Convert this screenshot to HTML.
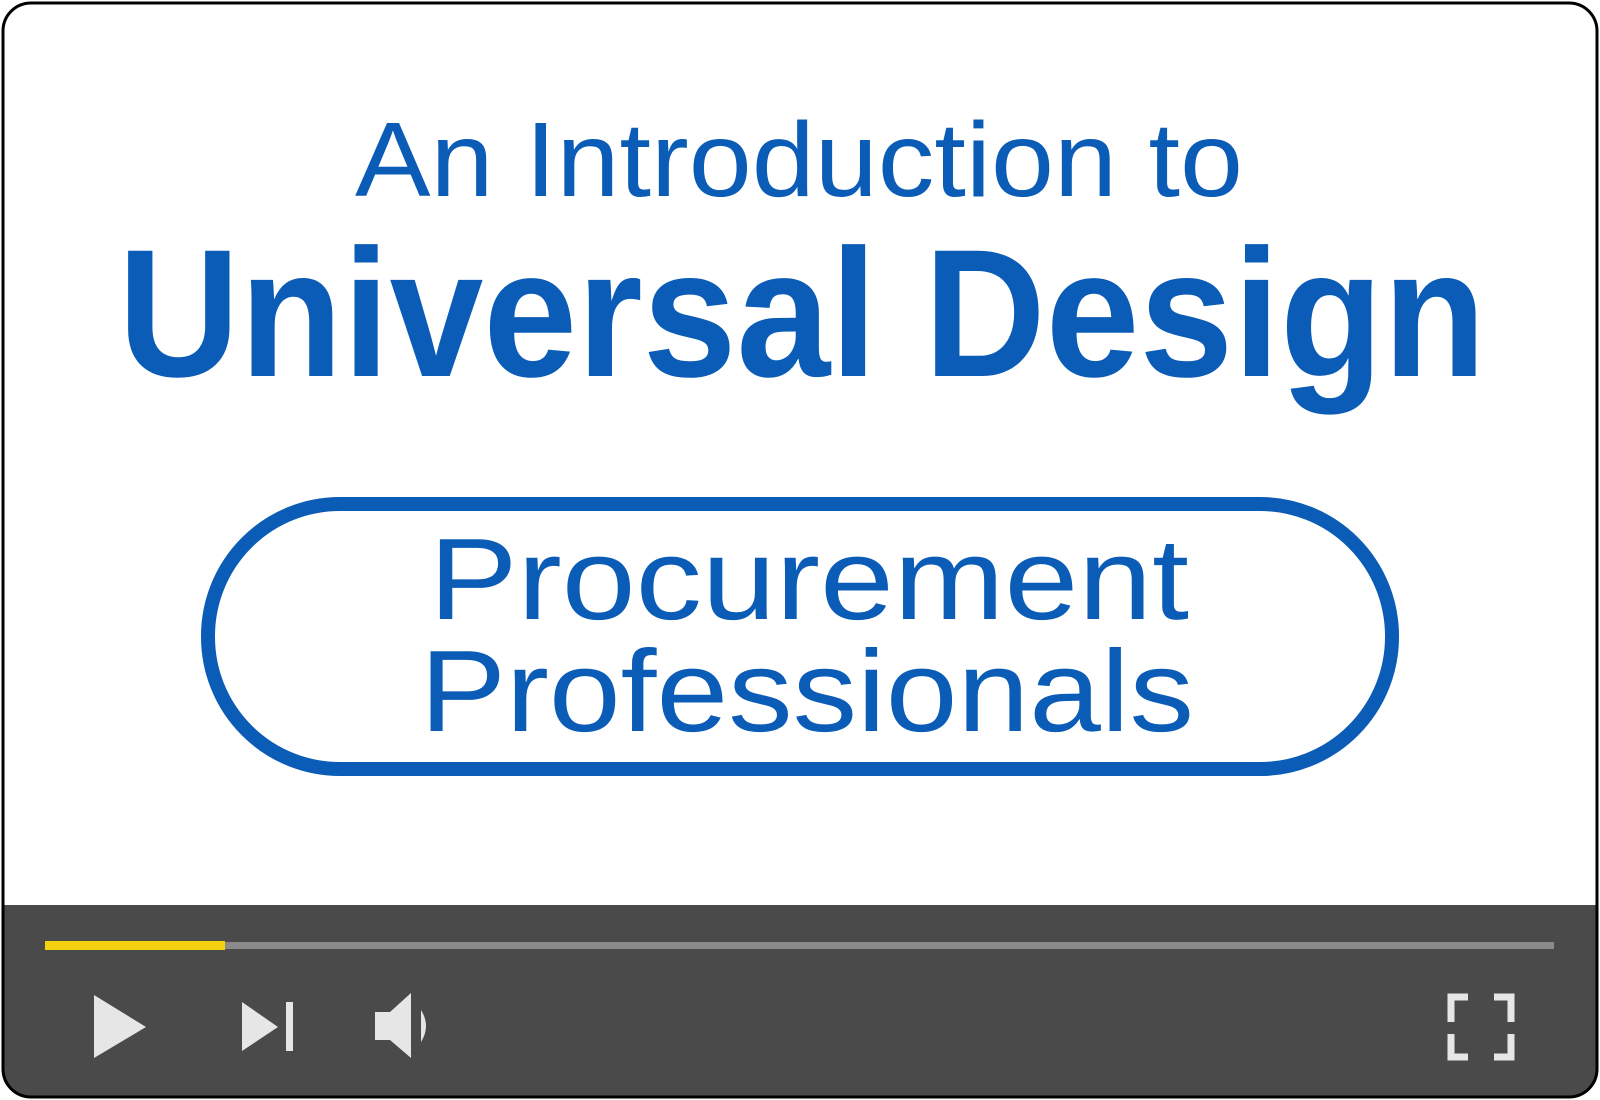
<!DOCTYPE html>
<html><head><meta charset="utf-8"><style>
html,body{margin:0;padding:0;background:#fff;}
svg{display:block;}
text{font-family:"Liberation Sans",sans-serif;fill:#0b5cb6;}
</style></head><body>
<svg width="1600" height="1100" viewBox="0 0 1600 1100">
  <defs><clipPath id="c"><rect x="3" y="3" width="1594" height="1094" rx="28"/></clipPath></defs>
  <g clip-path="url(#c)">
    <rect x="0" y="0" width="1600" height="1100" fill="#fff"/>
    <rect x="0" y="905" width="1600" height="195" fill="#4a4a4a"/>
  </g>
  <rect x="3" y="3" width="1594" height="1094" rx="28" fill="none" stroke="#000" stroke-width="3"/>
  <text x="355" y="196" font-size="106" textLength="888" lengthAdjust="spacingAndGlyphs">An Introduction to</text>
  <text x="118" y="376" font-size="182" font-weight="bold" textLength="1368" lengthAdjust="spacingAndGlyphs">Universal Design</text>
  <rect x="208" y="504" width="1184" height="265" rx="132" fill="none" stroke="#0b5cb6" stroke-width="14"/>
  <text x="429" y="619" font-size="116" textLength="760" lengthAdjust="spacingAndGlyphs">Procurement</text>
  <text x="420" y="731" font-size="116" textLength="774" lengthAdjust="spacingAndGlyphs">Professionals</text>
  <rect x="45" y="942" width="1509" height="7" fill="#8a8a8a"/>
  <rect x="45" y="941" width="180" height="9" fill="#f5d20f"/>
  <polygon points="94,995 146,1027 94,1058" fill="#e6e6e6"/>
  <g>
    <polygon points="242,1002 278,1027 242,1051" fill="#e6e6e6"/>
    <rect x="286" y="1002" width="7" height="49" fill="#e6e6e6"/>
  </g>
  <g>
    <polygon points="375,1012 390,1012 411,993 411,1058 390,1040 375,1040" fill="#e6e6e6"/>
    <path d="M421,1010 Q431,1026 421,1042 Z" fill="#e6e6e6"/>
  </g>
  <g fill="none" stroke="#e6e6e6" stroke-width="7">
    <path d="M1451,1022 V997 H1468"/>
    <path d="M1494,997 H1511 V1022"/>
    <path d="M1451,1034 V1057 H1468"/>
    <path d="M1494,1057 H1511 V1034"/>
  </g>
</svg>
</body></html>
